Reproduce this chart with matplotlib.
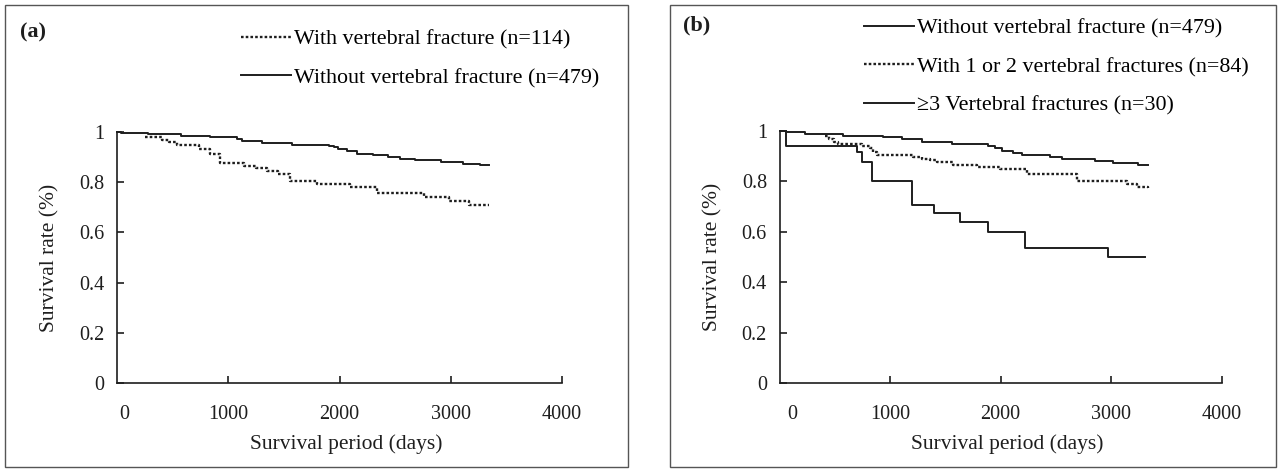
import numpy as np
import matplotlib
matplotlib.use('Agg')
import matplotlib.pyplot as plt
from matplotlib.patches import Rectangle
from matplotlib.transforms import ScaledTranslation

plt.rcParams['font.family'] = ['Liberation Serif', 'DejaVu Serif']

W, H = 1281, 469

# ---- data (days, survival) ----
# panel (a)
a_without_t = [0, 40, 281, 577, 840, 1080, 1125, 1305, 1574, 1903, 1950, 1988, 2063, 2153,
               2302, 2437, 2541, 2676, 2916, 3110, 3260, 3340]
a_without_s = [1.0, 0.996, 0.991, 0.983, 0.979, 0.971, 0.965, 0.956, 0.950, 0.945, 0.940, 0.931,
               0.923, 0.914, 0.907, 0.900, 0.894, 0.887, 0.880, 0.874, 0.867, 0.867]
a_with_t = [250, 400, 470, 540, 735, 840, 930, 1140, 1250, 1350, 1450, 1559, 1800, 2098,
            2338, 2757, 2982, 3167, 3340]
a_with_s = [0.980, 0.970, 0.960, 0.950, 0.933, 0.914, 0.878, 0.866, 0.855, 0.845, 0.834,
            0.806, 0.793, 0.781, 0.758, 0.741, 0.726, 0.709, 0.709]

# panel (b)
b_without_t = [0, 59, 231, 577, 939, 1106, 1287, 1558, 1890, 1950, 2011, 2116, 2192, 2448,
               2554, 2855, 3021, 3247, 3338]
b_without_s = [1.0, 0.995, 0.987, 0.981, 0.975, 0.967, 0.958, 0.948, 0.940, 0.933, 0.922,
               0.913, 0.906, 0.897, 0.889, 0.880, 0.872, 0.864, 0.864]
b_12_t = [412, 450, 490, 532, 744, 819, 846, 880, 1208, 1290, 1362, 1423, 1573, 1785, 1995,
          2237, 2690, 3142, 3233, 3335]
b_12_s = [0.980, 0.970, 0.958, 0.947, 0.939, 0.934, 0.917, 0.905, 0.895, 0.890, 0.885, 0.877,
          0.866, 0.858, 0.848, 0.828, 0.801, 0.788, 0.778, 0.775]
b_3_t = [0, 59, 704, 744, 834, 1200, 1398, 1634, 1890, 2222, 2976, 3308]
b_3_s = [1.0, 0.940, 0.915, 0.878, 0.800, 0.706, 0.673, 0.638, 0.600, 0.535, 0.501, 0.501]

xticks = [0, 1000, 2000, 3000, 4000]
yticks = [0, 0.2, 0.4, 0.6, 0.8, 1.0]
yticklabels = ['0', '0.2', '0.4', '0.6', '0.8', '1']

ink = '#1e1e1e'
dotted = (0, (1.1, 0.9))


def fx(x):
    return x / W


def fy(y):
    return 1 - y / H


fig = plt.figure(figsize=(W / 100, H / 100), dpi=100)

# panel frames
for x0, x1 in [(5, 628), (670, 1276)]:
    fig.add_artist(Rectangle((fx(x0), fy(467)), fx(x1) - fx(x0), fy(5) - fy(467),
                             transform=fig.transFigure, fill=False, ec='#555555', lw=1.0))


def setup(ax, zero_shift):
    ax.set_xlim(0, 4000)
    ax.set_ylim(0, 1.0)
    for s in ['top', 'right']:
        ax.spines[s].set_visible(False)
    for s in ['left', 'bottom']:
        ax.spines[s].set_linewidth(1.2)
        ax.spines[s].set_color(ink)
    ax.set_yticks(yticks)
    ax.set_yticklabels(yticklabels)
    ax.set_xticks(xticks)
    ax.set_xticklabels([str(v) for v in xticks])
    ax.tick_params(axis='y', direction='in', length=5, width=1.2, pad=9, labelsize=14.5,
                   colors=ink)
    ax.tick_params(axis='x', direction='in', length=5, width=1.2, pad=16, labelsize=14.5,
                   colors=ink)
    ax.xaxis.get_major_ticks()[0].tick1line.set_visible(False)
    lab0 = ax.get_xticklabels()[0]
    lab0.set_transform(lab0.get_transform() +
                       ScaledTranslation(zero_shift / 100, 0, fig.dpi_scale_trans))
    ax.set_ylabel('Survival rate (%)', fontsize=15.5, color=ink)
    ax.set_xlabel('Survival period (days)', fontsize=15.5, color=ink)
    ax.yaxis.set_label_coords(-0.13, 0.5)
    ax.xaxis.set_label_coords(0.515, -0.205)


leg_kw = dict(loc='upper left', bbox_transform=fig.transFigure, frameon=False, fontsize=15.8,
              handlelength=2.3, handletextpad=0.1, labelspacing=0.84, borderpad=0,
              borderaxespad=0)

# panel (a)
axa = fig.add_axes([fx(117), fy(383), fx(562) - fx(117), fy(132) - fy(383)])
setup(axa, 7)
la1, = axa.step(a_with_t, a_with_s, where='post', color=ink, lw=1.7, ls=dotted, clip_on=False)
la2, = axa.step(a_without_t, a_without_s, where='post', color=ink, lw=1.4, clip_on=False)
axa.legend([la1, la2], ['With vertebral fracture (n=114)', 'Without vertebral fracture (n=479)'],
           bbox_to_anchor=(fx(241), fy(29)), **leg_kw)
fig.text(fx(20), fy(32), '(a)', fontsize=16, weight='bold', va='center', ha='left', color=ink)

# panel (b)
axb = fig.add_axes([fx(779.5), fy(383), fx(1221.5) - fx(779.5), fy(131) - fy(383)])
setup(axb, 13)
lb1, = axb.step(b_without_t, b_without_s, where='post', color=ink, lw=1.4, clip_on=False)
lb2, = axb.step(b_12_t, b_12_s, where='post', color=ink, lw=1.7, ls=dotted, clip_on=False)
lb3, = axb.step(b_3_t, b_3_s, where='post', color=ink, lw=1.4, clip_on=False)
axb.legend([lb1, lb2, lb3], ['Without vertebral fracture (n=479)',
                             'With 1 or 2 vertebral fractures (n=84)',
                             '\u22653 Vertebral fractures (n=30)'],
           bbox_to_anchor=(fx(864), fy(18)), **leg_kw)
fig.text(fx(683), fy(25), '(b)', fontsize=16, weight='bold', va='center', ha='left', color=ink)

fig.savefig('out.png', dpi=100)
